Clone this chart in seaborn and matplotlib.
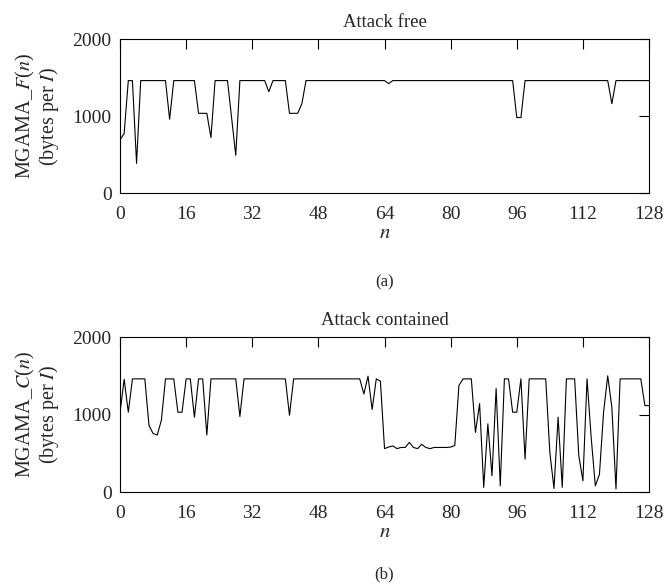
import numpy as np
import pandas as pd
import matplotlib
matplotlib.use("Agg")
import matplotlib.pyplot as plt
import seaborn as sns

# sample index n = 0..128
n_values = list(range(129))

# MGAMA_F(n), attack free (bytes per I)
attack_free = [
    690, 775, 1460, 1460, 385, 1460, 1460, 1460, 1460, 1460, 1460, 1460, 957, 1460, 1460, 1460,
    1460, 1460, 1460, 1035, 1035, 1035, 720, 1460, 1460, 1460, 1460, 975, 490, 1460, 1460, 1460,
    1460, 1460, 1460, 1460, 1315, 1460, 1460, 1460, 1460, 1035, 1035, 1035, 1160, 1460, 1460, 1460,
    1460, 1460, 1460, 1460, 1460, 1460, 1460, 1460, 1460, 1460, 1460, 1460, 1460, 1460, 1460, 1460,
    1460, 1420, 1460, 1460, 1460, 1460, 1460, 1460, 1460, 1460, 1460, 1460, 1460, 1460, 1460, 1460,
    1460, 1460, 1460, 1460, 1460, 1460, 1460, 1460, 1460, 1460, 1460, 1460, 1460, 1460, 1460, 1460,
    980, 980, 1460, 1460, 1460, 1460, 1460, 1460, 1460, 1460, 1460, 1460, 1460, 1460, 1460, 1460,
    1460, 1460, 1460, 1460, 1460, 1460, 1460, 1160, 1460, 1460, 1460, 1460, 1460, 1460, 1460, 1460,
    1460,
]

# MGAMA_C(n), attack contained (bytes per I)
attack_contained = [
    1030, 1455, 1030, 1460, 1460, 1460, 1460, 860, 755, 735, 925, 1460, 1460, 1460, 1030, 1030,
    1460, 1460, 965, 1460, 1460, 735, 1460, 1460, 1460, 1460, 1460, 1460, 1460, 975, 1460, 1460,
    1460, 1460, 1460, 1460, 1460, 1460, 1460, 1460, 1460, 990, 1460, 1460, 1460, 1460, 1460, 1460,
    1460, 1460, 1460, 1460, 1460, 1460, 1460, 1460, 1460, 1460, 1460, 1265, 1495, 1065, 1460, 1430,
    560, 580, 595, 560, 575, 575, 640, 575, 560, 615, 575, 560, 575, 575, 575, 575,
    580, 600, 1375, 1460, 1460, 1460, 770, 1140, 60, 880, 210, 1335, 80, 1460, 1460, 1030,
    1030, 1460, 425, 1460, 1460, 1460, 1460, 1460, 510, 45, 965, 60, 1460, 1460, 1460, 470,
    145, 1460, 705, 80, 230, 1030, 1500, 1095, 40, 1460, 1460, 1460, 1460, 1460, 1460, 1115,
    1115,
]

x_ticks = [0, 16, 32, 48, 64, 80, 96, 112, 128]
y_ticks = [0, 1000, 2000]

sns.set_style("white")
plt.rcParams["font.family"] = ["Liberation Serif", "DejaVu Serif"]
plt.rcParams["mathtext.fontset"] = "stix"

fig = plt.figure(figsize=(6.65, 5.84), dpi=100)
ax_a = fig.add_axes([0.1805, 0.6695, 0.7955, 0.2637])
ax_b = fig.add_axes([0.1805, 0.1575, 0.7955, 0.2654])

panels = [
    (ax_a, attack_free, "Attack free", "MGAMA_$F$($n$)\n(bytes per $I$)", "(a)", 0.517),
    (ax_b, attack_contained, "Attack contained", "MGAMA_$C$($n$)\n(bytes per $I$)", "(b)", 0.016),
]

for ax, vals, title, ylab, tag, tag_y in panels:
    df = pd.DataFrame({"n": n_values, "value": vals})
    sns.lineplot(data=df, x="n", y="value", ax=ax, color="black", linewidth=0.8)
    ax.set_xlim(0, 128)
    ax.set_ylim(0, 2000)
    ax.set_xticks(x_ticks)
    ax.set_yticks(y_ticks)
    ax.tick_params(direction="in", length=7, width=0.8, top=True, right=True,
                   labelsize=14, color="black")
    ax.tick_params(axis="x", pad=9)
    ax.tick_params(axis="y", pad=6)
    for s in ax.spines.values():
        s.set_visible(True)
        s.set_color("black")
        s.set_linewidth(0.8)
    ax.set_title(title, fontsize=13.5, pad=9)
    ax.set_xlabel("$n$", fontsize=15, labelpad=1)
    ax.set_ylabel(ylab, fontsize=14.5, labelpad=8, linespacing=1.05)
    bbox = ax.get_position()
    fig.text(bbox.x0 + bbox.width / 2, tag_y, tag, ha="center", va="center",
             fontsize=12)

fig.savefig("out.png", dpi=100)
